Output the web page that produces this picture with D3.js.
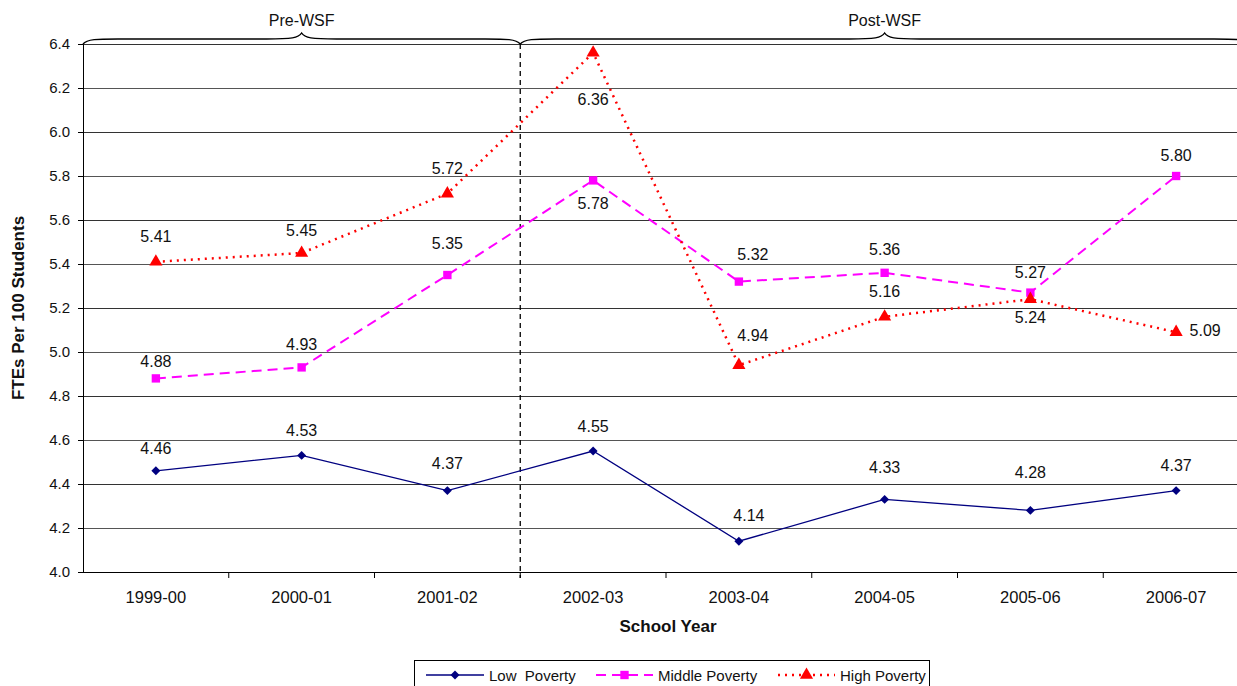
<!DOCTYPE html>
<html><head><meta charset="utf-8">
<script src="https://cdn.jsdelivr.net/npm/d3@7"></script>
<style>body{margin:0;background:#fff}svg{display:block;font-family:"Liberation Sans",Arial,sans-serif}</style>
</head><body><svg id="c" width="1237" height="686"></svg>
<script>
const categories = ["1999-00","2000-01","2001-02","2002-03","2003-04","2004-05","2005-06","2006-07"];
const lowPoverty = [4.46,4.53,4.37,4.55,4.14,4.33,4.28,4.37];
const middlePoverty = [4.88,4.93,5.35,5.78,5.32,5.36,5.27,5.80];
const highPoverty = [5.41,5.45,5.72,6.36,4.94,5.16,5.24,5.09];
const yTicks = [4.0,4.2,4.4,4.6,4.8,5.0,5.2,5.4,5.6,5.8,6.0,6.2,6.4];
const periods = [{name:"Pre-WSF", from:0, to:3},{name:"Post-WSF", from:3, to:8}];
// label placement (layout only)
const lowLabelDy = [-22,-25,-27,-25,-26,-32,-38,-25];
const midLabelDy = [-17,-23,-32,23,-27,-23,-20,-21];
const highLabelDy = [-25,-23,-25,47,-30,-25,18,-2];
const lowLabelDx = [0,0,0,0,10,0,0,0];
const midLabelDx = [0,0,0,0,14,0,0,0];
const highLabelDx = [0,0,0,0,14,0,0,29];

const svg = d3.select("#c");
const L=83, R=1249, T=44, B=572;
const x = d3.scaleBand().domain(categories).range([L,R]).paddingInner(0).paddingOuter(0);
const y = d3.scaleLinear().domain([4.0,6.4]).range([B,T]);
const cx = c => x(c)+x.bandwidth()/2;
const FF = "Liberation Sans, Arial, sans-serif";

// squat diamond symbol
const wideDiamond = { draw(ctx, size){ const r=Math.sqrt(size/2); ctx.moveTo(0,-r); ctx.lineTo(r,0); ctx.lineTo(0,r); ctx.lineTo(-r,0); ctx.closePath(); } };

// gridlines
svg.append("g").selectAll("line").data(yTicks.slice(1)).join("line")
  .attr("x1",L).attr("x2",R).attr("y1",d=>y(d)).attr("y2",d=>y(d))
  .attr("stroke",(d,i)=> i%2? "#333":"#555").attr("stroke-width",1).attr("shape-rendering","crispEdges");

// y axis
const ya = svg.append("g").attr("transform",`translate(${L},0)`)
  .call(d3.axisLeft(y).tickValues(yTicks).tickFormat(d3.format(".1f")).tickSize(5).tickPadding(8));
ya.select(".domain").attr("stroke","#000");
ya.selectAll(".tick line").attr("stroke","#000");
ya.selectAll("text").attr("font-size",15).attr("fill","#111").attr("font-family",FF);

// x axis
const xa = svg.append("g").attr("transform",`translate(0,${B})`)
  .call(d3.axisBottom(x).tickSize(0).tickPadding(19));
xa.select(".domain").remove();
xa.selectAll("text").attr("font-size",16.5).attr("fill","#111").attr("font-family",FF);
svg.append("line").attr("x1",L).attr("x2",R).attr("y1",B).attr("y2",B).attr("stroke","#000").attr("shape-rendering","crispEdges");
svg.append("g").selectAll("line").data(categories.slice(1)).join("line")
  .attr("x1",d=>x(d)).attr("x2",d=>x(d)).attr("y1",B).attr("y2",B+6).attr("stroke","#000");

// divider
const divX = x(categories[3]);
svg.append("line").attr("x1",divX).attr("x2",divX).attr("y1",T).attr("y2",B+6)
  .attr("stroke","#000").attr("stroke-width",1.3).attr("stroke-dasharray","5,4");

// braces
function brace(x0,x1){
  const m=(x0+x1)/2, yb=T, yl=39, ya2=33;
  return `M${x0},${yb} C${x0+4},${yl} ${x0+14},${yl} ${x0+35},${yl} L${m-35},${yl} C${m-10},${yl} ${m-3},${yl-1} ${m},${ya2} C${m+3},${yl-1} ${m+10},${yl} ${m+35},${yl} L${x1-35},${yl} C${x1-14},${yl} ${x1-4},${yl} ${x1},${yb}`;
}
periods.forEach(p=>{
  const x0 = x(categories[p.from]);
  const x1 = p.to>=categories.length ? R : x(categories[p.to]);
  svg.append("path").attr("d",brace(x0,x1)).attr("fill","none").attr("stroke","#000").attr("stroke-width",1.4);
  svg.append("text").attr("x",(x0+x1)/2).attr("y",20).attr("text-anchor","middle").attr("dominant-baseline","central")
    .attr("font-size",16).attr("fill","#111").text(p.name);
});

// series
const series = [
  {name:"Low  Poverty", vals:lowPoverty, color:"#000080", dash:null, w:1.3, shape:wideDiamond, size:40, dy:lowLabelDy, dx:lowLabelDx},
  {name:"Middle Poverty", vals:middlePoverty, color:"#FF00FF", dash:"10,6", w:2, shape:d3.symbolSquare, size:70, dy:midLabelDy, dx:midLabelDx},
  {name:"High Poverty", vals:highPoverty, color:"#FF0000", dash:"2,5", w:2.5, shape:d3.symbolTriangle, size:75, dy:highLabelDy, dx:highLabelDx}
];
const line = d3.line().x((d,i)=>cx(categories[i])).y(d=>y(d));
series.forEach(s=>{
  svg.append("path").datum(s.vals).attr("d",line).attr("fill","none").attr("stroke",s.color)
    .attr("stroke-width",s.w).attr("stroke-dasharray",s.dash);
  svg.append("g").selectAll("path").data(s.vals).join("path")
    .attr("d",d3.symbol().type(s.shape).size(s.size))
    .attr("transform",(d,i)=>`translate(${cx(categories[i])},${y(d)})`).attr("fill",s.color);
});
series.forEach(s=>{
  svg.append("g").selectAll("text").data(s.vals).join("text")
    .attr("x",(d,i)=>cx(categories[i])+s.dx[i]).attr("y",(d,i)=>y(d)+s.dy[i])
    .attr("text-anchor","middle")
    .attr("dominant-baseline","central").attr("font-size",16).attr("fill","#111")
    .text(d=>d.toFixed(2));
});
// axis titles
svg.append("text").attr("transform","translate(18,308) rotate(-90)").attr("text-anchor","middle")
  .attr("dominant-baseline","central").attr("font-size",17).attr("font-weight","bold").attr("fill","#111").text("FTEs Per 100 Students");
svg.append("text").attr("x",668).attr("y",626).attr("text-anchor","middle").attr("dominant-baseline","central")
  .attr("font-size",17).attr("font-weight","bold").attr("fill","#111").text("School Year");

// legend
const lg = svg.append("g");
lg.append("rect").attr("x",414.5).attr("y",660.5).attr("width",515).attr("height",40).attr("fill","#fff").attr("stroke","#000");
const legX = [426,596,778];
series.forEach((s,i)=>{
  const x0=legX[i], x1=x0+(i==0?58:57);
  lg.append("line").attr("x1",x0).attr("x2",x1).attr("y1",675).attr("y2",675).attr("stroke",s.color)
    .attr("stroke-width",s.w).attr("stroke-dasharray",s.dash);
  lg.append("path").attr("d",d3.symbol().type(s.shape).size(s.size)).attr("transform",`translate(${(x0+x1)/2},675)`).attr("fill",s.color);
  lg.append("text").attr("x",x1+5).attr("y",675).attr("dominant-baseline","central").attr("font-size",15).attr("fill","#111")
    .style("white-space","pre").text(s.name);
});
</script></body></html>
